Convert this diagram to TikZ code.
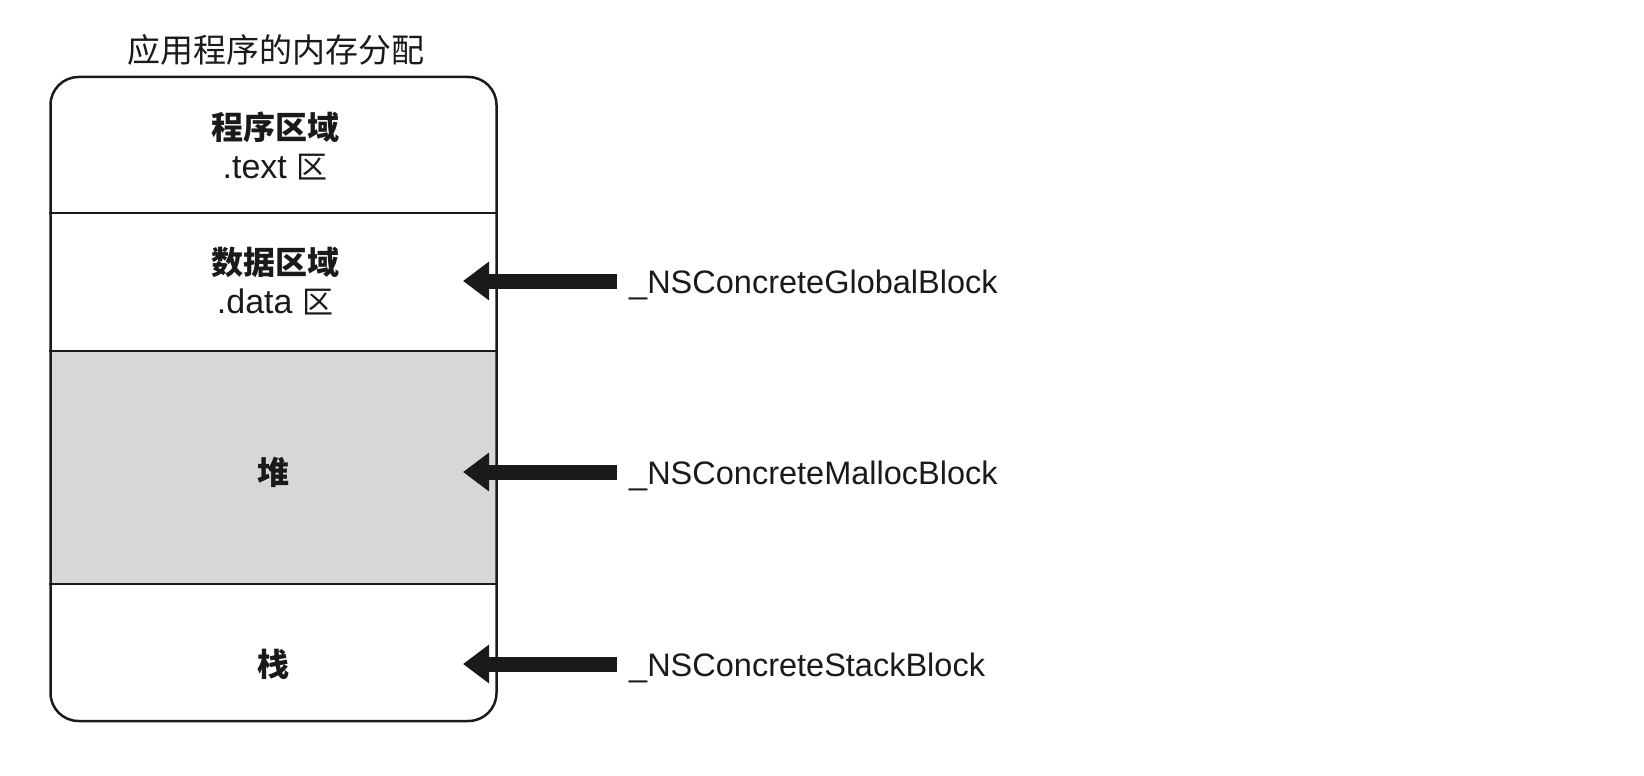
\documentclass[tikz,border=0pt]{standalone}
\usepackage{fontspec}
\setmainfont{Liberation Sans}
\newfontfamily\cjk{Noto Sans CJK SC}
\usetikzlibrary{arrows.meta}
\definecolor{heapgray}{HTML}{D7D7D7}
\definecolor{ink}{HTML}{1A1A1A}
\tikzset{
  memline/.style={line width=2.5pt, draw=ink},
  segtext/.style={align=center, text=ink, inner sep=0pt, font=\fontsize{34}{39}\selectfont},
  cjkbold/.style={font=\fontsize{32}{39}\selectfont\cjk\bfseries},
  lbl/.style={anchor=base west, inner sep=0pt, text=ink, font=\fontsize{32.5}{36}\selectfont},
  bigarrow/.style={line width=15pt, draw=ink, -{Triangle[length=26pt,width=37pt]}},
}
\newcommand{\qu}[1]{{\fontsize{31}{39}\selectfont\cjk #1}}
\newcommand{\qb}[1]{{\fontsize{32}{39}\selectfont\cjk\bfseries #1}}
\begin{document}
\begin{tikzpicture}[x=1pt,y=-1pt]
\useasboundingbox (0,0) rectangle (1644,776);
% heap shading
\fill[heapgray] (51.5,351) rectangle (495.5,584);
% outer box
\node[memline, draw, rounded corners=28pt, minimum width=446pt, minimum height=644pt, inner sep=0pt] (mem) at (273.5,399) {};
% dividers
\draw[memline] (mem.west |- 0,213) -- (mem.east |- 0,213);
\draw[memline] (mem.west |- 0,351) -- (mem.east |- 0,351);
\draw[memline] (mem.west |- 0,584) -- (mem.east |- 0,584);
% title
\node[text=ink, inner sep=0pt, font=\fontsize{33}{36}\selectfont\cjk] (title) at (276,50) {应用程序的内存分配};
% segment texts
\node[segtext] (seg1) at (275,146) {\qb{程序区域}\\.text \qu{区}};
\node[segtext] (seg2) at (275,281) {\qb{数据区域}\\.data \qu{区}};
\node[segtext, cjkbold] (seg3) at (273,472) {堆};
\node[segtext, cjkbold] (seg4) at (273,664) {栈};
% labels
\node[lbl] (lblG) at (629,293) {\_NSConcreteGlobalBlock};
\node[lbl] (lblM) at (629,484) {\_NSConcreteMallocBlock};
\node[lbl] (lblS) at (629,676) {\_NSConcreteStackBlock};
% arrow tips
\coordinate (tipG) at (463,281);
\coordinate (tipM) at (463,472);
\coordinate (tipS) at (463,664);
\draw[bigarrow] (lblG.west |- tipG) ++(-12,0) -- (tipG);
\draw[bigarrow] (lblM.west |- tipM) ++(-12,0) -- (tipM);
\draw[bigarrow] (lblS.west |- tipS) ++(-12,0) -- (tipS);
\end{tikzpicture}
\end{document}
